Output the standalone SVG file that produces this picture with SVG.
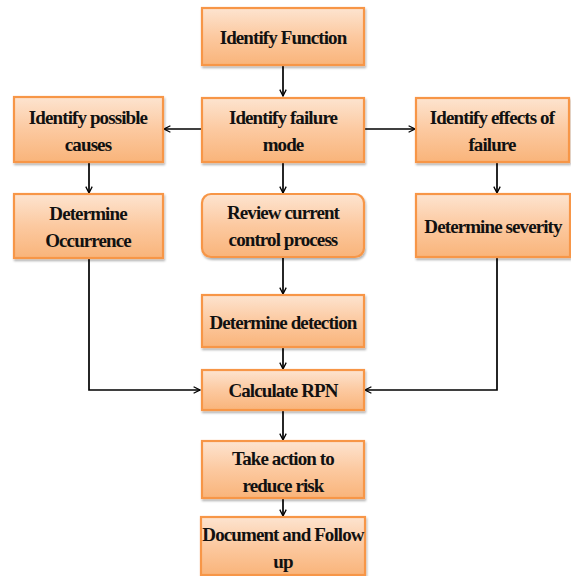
<svg xmlns="http://www.w3.org/2000/svg" width="571" height="576" viewBox="0 0 571 576">
<defs>
<linearGradient id="g" x1="0" y1="0" x2="0" y2="1">
<stop offset="0" stop-color="#fde4d0"/>
<stop offset="0.5" stop-color="#fcc9a0"/>
<stop offset="1" stop-color="#f9b47a"/>
</linearGradient>
<filter id="sh" x="-10%" y="-10%" width="130%" height="140%">
<feDropShadow dx="1" dy="2" stdDeviation="1.2" flood-color="#000" flood-opacity="0.3"/>
</filter>
<marker id="ah" viewBox="0 0 10 10" refX="9" refY="5" markerWidth="8" markerHeight="8" markerUnits="userSpaceOnUse" orient="auto">
<path d="M1,1 L9,5 L1,9" fill="none" stroke="#000" stroke-width="1.6"/>
</marker>
<style>
.box{fill:url(#g);stroke:#f79646;stroke-width:2.2;filter:url(#sh)}
.c{fill:none;stroke:#000;stroke-width:1.7;marker-end:url(#ah)}
</style>
</defs>
<rect width="571" height="576" fill="#fff"/>
<g id="connectors">
<path class="c" d="M283,66 V96"/>
<path class="c" d="M202,129 H164"/>
<path class="c" d="M364,129 H415"/>
<path class="c" d="M89,162 V193"/>
<path class="c" d="M497,162 V193"/>
<path class="c" d="M283,162 V193"/>
<path class="c" d="M283,257 V294"/>
<path class="c" d="M283,347 V369"/>
<path class="c" d="M89,258 V390 H200"/>
<path class="c" d="M497,257 V390 H365"/>
<path class="c" d="M283,410 V440"/>
<path class="c" d="M283,498 V516"/>
</g>
<g id="nodes" font-family="Liberation Serif, Times New Roman, serif" font-weight="bold" font-size="19" fill="#111" text-anchor="middle" letter-spacing="-0.9">
<g id="n1"><rect class="box" x="202" y="8" width="162" height="57"/><text x="283" y="44">Identify Function</text></g>
<g id="n2"><rect class="box" x="202" y="98" width="162" height="64"/><text x="283" y="124">Identify failure</text><text x="283" y="151">mode</text></g>
<g id="n3"><rect class="box" x="14" y="97" width="149" height="65"/><text x="88" y="124">Identify possible</text><text x="88" y="151">causes</text></g>
<g id="n4"><rect class="box" x="416" y="98" width="153" height="64"/><text x="492" y="124">Identify effects of</text><text x="492" y="151">failure</text></g>
<g id="n5"><rect class="box" x="14" y="194" width="149" height="64"/><text x="88" y="220">Determine</text><text x="88" y="247">Occurrence</text></g>
<g id="n6"><rect class="box" x="202" y="194" width="162" height="63" rx="9"/><text x="283" y="219">Review current</text><text x="283" y="246">control process</text></g>
<g id="n7"><rect class="box" x="416" y="194" width="154" height="63"/><text x="493" y="233">Determine severity</text></g>
<g id="n8"><rect class="box" x="202" y="295" width="162" height="52"/><text x="283" y="329">Determine detection</text></g>
<g id="n9"><rect class="box" x="202" y="370" width="162" height="40"/><text x="283" y="397">Calculate RPN</text></g>
<g id="n10"><rect class="box" x="202" y="441" width="162" height="57"/><text x="283" y="465">Take action to</text><text x="283" y="492">reduce risk</text></g>
<g id="n11"><rect class="box" x="201" y="517" width="164" height="58"/><text x="283" y="541">Document and Follow</text><text x="283" y="568">up</text></g>
</g>
</svg>
